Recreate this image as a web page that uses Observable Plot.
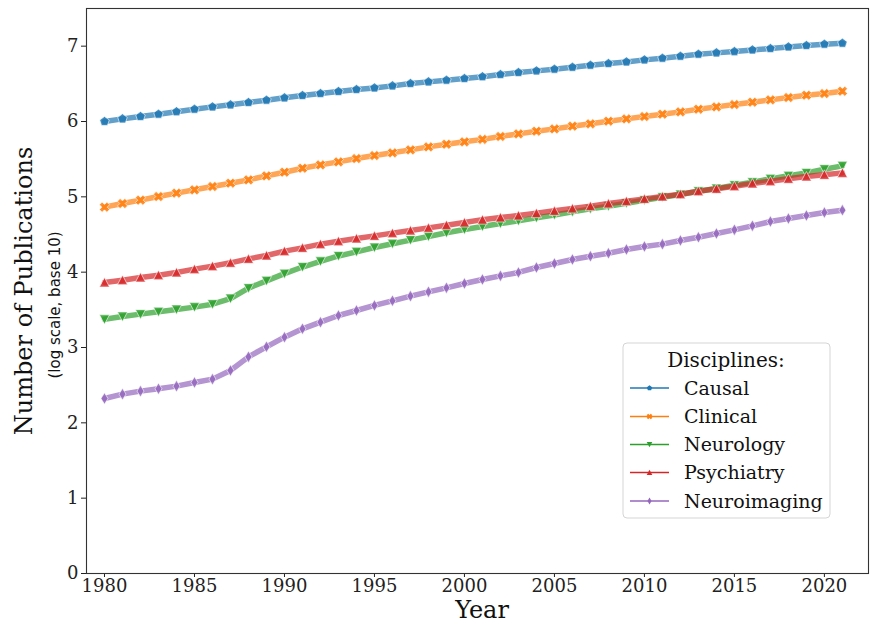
<!DOCTYPE html>
<html><head><meta charset="utf-8">
<script src="https://cdn.jsdelivr.net/npm/d3@7"></script>
<script src="https://cdn.jsdelivr.net/npm/@observablehq/plot@0.6"></script>
<style>body{margin:0;background:#fff;} #chart{width:870px;height:625px;}</style>
</head><body><div id="chart"></div>
<script>
const years = [1980,1981,1982,1983,1984,1985,1986,1987,1988,1989,1990,1991,1992,1993,1994,1995,1996,1997,1998,1999,2000,
  2001,2002,2003,2004,2005,2006,2007,2008,2009,2010,2011,2012,2013,2014,2015,2016,2017,2018,2019,2020,2021];
const causal = [6.00,6.035,6.066,6.097,6.13,6.163,6.194,6.221,6.252,6.283,6.314,6.345,6.371,6.398,6.424,6.446,6.473,6.504,6.526,6.548,6.57,
  6.595,6.623,6.65,6.672,6.694,6.72,6.747,6.769,6.791,6.818,6.84,6.866,6.893,6.911,6.928,6.95,6.968,6.99,7.008,7.026,7.039];
const clinical = [4.863,4.911,4.956,5.004,5.049,5.093,5.137,5.181,5.225,5.278,5.327,5.38,5.424,5.464,5.508,5.548,5.584,5.623,5.663,5.698,5.73,
  5.763,5.801,5.836,5.871,5.902,5.938,5.969,6.004,6.035,6.066,6.097,6.128,6.163,6.194,6.225,6.256,6.287,6.318,6.349,6.371,6.402];
const neurology = [3.374,3.412,3.443,3.474,3.505,3.536,3.575,3.65,3.788,3.885,3.98,4.068,4.144,4.215,4.27,4.327,4.378,4.426,4.474,4.523,4.567,
  4.607,4.646,4.681,4.721,4.76,4.8,4.84,4.876,4.915,4.955,4.995,5.03,5.075,5.11,5.155,5.194,5.239,5.279,5.318,5.367,5.411];
const psychiatry = [3.863,3.894,3.929,3.96,3.996,4.04,4.08,4.124,4.177,4.221,4.279,4.323,4.372,4.411,4.447,4.482,4.518,4.553,4.588,4.624,4.659,
  4.697,4.726,4.752,4.783,4.814,4.845,4.876,4.911,4.942,4.973,5.004,5.035,5.075,5.106,5.141,5.177,5.207,5.239,5.27,5.292,5.318];
const neuroimaging = [2.323,2.381,2.421,2.452,2.487,2.536,2.58,2.695,2.876,3.009,3.137,3.248,3.336,3.425,3.491,3.558,3.62,3.682,3.739,3.792,3.85,
  3.903,3.951,3.996,4.062,4.115,4.168,4.212,4.252,4.301,4.341,4.372,4.42,4.464,4.513,4.562,4.615,4.672,4.712,4.752,4.792,4.823];
const disciplines = ["Causal","Clinical","Neurology","Psychiatry","Neuroimaging"];
const colors = ["#1f77b4","#ff7f0e","#2ca02c","#d62728","#9467bd"];
const xTicks = [1980,1985,1990,1995,2000,2005,2010,2015,2020];
const yTicks = [0,1,2,3,4,5,6,7];

// custom marker shapes
function poly(pts){
  return {draw(ctx, size){
    const r = Math.sqrt(size/Math.PI);
    pts.forEach(([x,y],i)=> i ? ctx.lineTo(x*r,y*r) : ctx.moveTo(x*r,y*r));
    ctx.closePath();
  }};
}
const pentagon = poly(d3.range(5).map(k=>{const a=(-90+72*k)*Math.PI/180; return [Math.cos(a),Math.sin(a)];}));
const w = 0.36;
const plusPts = [[-w,-1],[w,-1],[w,-w],[1,-w],[1,w],[w,w],[w,1],[-w,1],[-w,w],[-1,w],[-1,-w],[-w,-w]];
const c45 = Math.SQRT1_2;
const xFilled = poly(plusPts.map(([x,y])=>[(x-y)*c45*1.05,(x+y)*c45*1.05]));
const triDown = poly([[0,1],[-1,-0.9],[1,-0.9]]);
const triUp = poly([[0,-1],[-1,0.9],[1,0.9]]);
const thinDiamond = poly([[0,-1],[0.6,0],[0,1],[-0.6,0]]);
const symbols = [pentagon, xFilled, triDown, triUp, thinDiamond];
const radii = [5, 5, 5, 5, 5.8];

const seriesValues = [causal, clinical, neurology, psychiatry, neuroimaging];
const rows = [];
disciplines.forEach((name,i)=> years.forEach((yr,j)=> rows.push({discipline:name, year:yr, value:seriesValues[i][j]})));

const marks = [];
disciplines.forEach((name,i)=>{
  const data = rows.filter(d=>d.discipline===name);
  marks.push(Plot.line(data,{x:"year",y:"value",stroke:colors[i],strokeWidth:5.5,strokeOpacity:0.7}));
  marks.push(Plot.dot(data,{x:"year",y:"value",symbol:symbols[i],r:radii[i],fill:colors[i],fillOpacity:0.85,stroke:"white",strokeWidth:0.6}));
});

const chart = Plot.plot({
  width: 870, height: 625,
  marginLeft: 86, marginRight: 2, marginTop: 8, marginBottom: 52,
  style: {fontFamily: "'DejaVu Serif', serif", fontSize: "18px", color: "#222", background: "#fff"},
  x: {domain: [1979, 2022.45], label: null},
  y: {domain: [0, 7.5], label: null},
  marks: [
    ...marks,
    Plot.axisX({ticks: xTicks, tickFormat: d=>String(d), tickSize: 4, tickPadding: 2, fontSize: 18, label: null}),
    Plot.axisY({ticks: yTicks, tickSize: 5, tickPadding: 3, fontSize: 18, label: null}),
    Plot.frame({stroke: "#333", strokeWidth: 1.1})
  ]
});
document.getElementById("chart").appendChild(chart);

const svg = d3.select(chart);
svg.append("text").attr("transform","translate(32,291) rotate(-90)").attr("text-anchor","middle")
  .attr("font-family","'DejaVu Serif', serif").attr("font-size",24).attr("fill","#111").text("Number of Publications");
svg.append("text").attr("transform","translate(60,305) rotate(-90)").attr("text-anchor","middle")
  .attr("font-family","'DejaVu Sans', sans-serif").attr("font-size",15).attr("fill","#111").text("(log scale, base 10)");
svg.append("text").attr("x",482).attr("y",618).attr("text-anchor","middle")
  .attr("font-family","'DejaVu Serif', serif").attr("font-size",24).attr("fill","#111").text("Year");

// legend
const lg = svg.append("g");
lg.append("rect").attr("x",623).attr("y",343).attr("width",207).attr("height",175).attr("rx",4)
  .attr("fill","white").attr("fill-opacity",0.85).attr("stroke","#d5d5d5").attr("stroke-width",1);
lg.append("text").attr("x",726).attr("y",367).attr("text-anchor","middle")
  .attr("font-family","'DejaVu Serif', serif").attr("font-size",20).attr("fill","#111").text("Disciplines:");
const rowY = [388, 416.5, 444.5, 472.5, 501];
disciplines.forEach((name,i)=>{
  const y = rowY[i];
  lg.append("line").attr("x1",630).attr("x2",669).attr("y1",y).attr("y2",y).attr("stroke",colors[i]).attr("stroke-width",1.6);
  lg.append("path").attr("transform",`translate(649.5,${y})`).attr("fill",colors[i])
    .attr("d", d3.symbol().type(symbols[i]).size(Math.PI*(i===4?3.4:2.8)**2)());
  lg.append("text").attr("x",684).attr("y",y+6.5).attr("text-anchor","start").attr("font-family","'DejaVu Serif', serif")
    .attr("font-size",19).attr("fill","#111").text(name);
});
</script></body></html>
